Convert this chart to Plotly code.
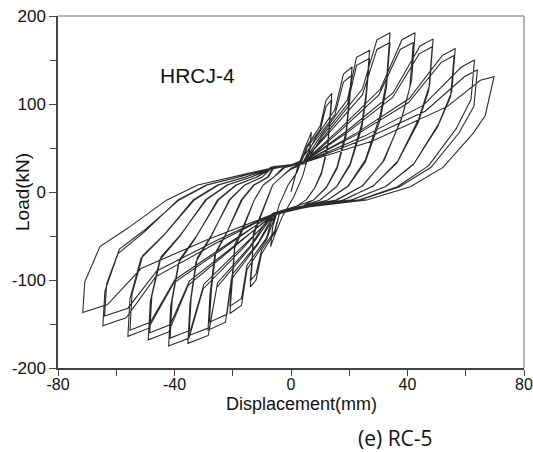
import plotly.graph_objects as go

# ---- data: hysteresis cycles (displacement mm, load kN), vertices ----
c01_disp = [0, 2, 5, 7, 6.3, 4, 1, -3, -5.5, -7, -6.3, -4, -1, 2]
c01_load = [0, 25, 52, 68, 45, 18, -5, -28, -48, -62, -40, -14, 8, 22]

c02_disp = [5.6, 10.1, 12, 14, 13.2, 12.6, 10.5, 8.1, 5.2, 1, -4, -5.6, -10.1, -12, -14, -13.3, -12.9, -10.9, -8.4, -6.3, -3, 0]
c02_load = [52.9, 75.6, 104, 112, 78.4, 53.8, 22.4, 4.5, -9, -18, -25, -46, -70, -100, -108, -80, -49.7, -32.4, -9, 8, 18, 26]

c03_disp = [3, 5.6, 10.1, 12, 14, 13.2, 12.6, 10.5, 8.1, 5.2, 1, -4, -5.6, -10.1, -12, -14, -13.3, -12.9, -10.9, -8.4, -6.3, -3, 0]
c03_load = [30, 50.9, 71.4, 97, 105, 73.5, 50.4, 21, 4.2, -9, -18, -25, -44, -65.8, -93, -101, -74.7, -46.5, -30.3, -9, 8, 18, 27]

c04_disp = [4, 8.4, 15.1, 18, 21, 19.8, 18.9, 15.8, 12.2, 7.8, 2, -5, -8.4, -15.1, -17, -21, -20.3, -19.3, -16.4, -12.6, -9.5, -5.9, -2]
c04_load = [33, 61.3, 93.6, 134, 142, 99.4, 68.2, 28.4, 5.7, -9, -16, -23, -54.4, -88, -129, -138, -102, -63.5, -41.4, -9, 8, 17, 28]

c05_disp = [3, 8.4, 15.1, 18, 21, 19.8, 18.9, 15.8, 12.2, 7.8, 3, -6, -8.4, -15.1, -17, -21, -20.3, -19.3, -16.4, -12.6, -9.5, -5.9, -3]
c05_load = [35, 58.8, 88.2, 125, 133, 93.1, 63.8, 26.6, 5.3, -9, -18, -25, -52.2, -83.2, -121, -130, -96.2, -59.8, -39, -9, 8, 17, 27]

c06_disp = [4, 10.8, 19.4, 22.5, 27, 25.8, 24.3, 20.3, 15.7, 10, 4, -5, -11.4, -20.5, -22.5, -28.5, -27.8, -26.2, -22.2, -17.1, -12.8, -8, -6]
c06_load = [33, 66.6, 105, 153, 161, 112.7, 77.3, 32.2, 6.4, -9, -16, -24, -59.7, -99.4, -148, -157, -116.2, -72.2, -47.1, -9, 8, 17, 29]

c07_disp = [5, 10.8, 19.4, 22.5, 27, 25.8, 24.3, 20.3, 15.7, 10, 3, -6, -11.2, -20.2, -22, -28, -27.3, -25.8, -21.8, -16.8, -12.6, -7.8, -6]
c07_load = [32, 64.1, 99.6, 144, 152, 106.4, 73, 30.4, 6.1, -9, -18, -26, -57.2, -94, -139, -148, -109.5, -68.1, -44.4, -9, 8, 17, 27]

c08_disp = [4, 13.6, 24.5, 29.5, 34, 32.8, 30.6, 25.5, 19.7, 12.6, 2, -6, -14.2, -25.5, -28.4, -35.4, -34.7, -32.6, -27.6, -21.2, -15.9, -9.9, -7]
c08_load = [33, 72.2, 117, 173, 181, 126.7, 86.9, 36.2, 7.2, -9, -19, -25, -63.9, -108.4, -163, -172, -127.3, -79.1, -51.6, -9, 8, 17, 26]

c09_disp = [4, 13.6, 24.5, 29.5, 34, 32.8, 30.6, 25.5, 19.7, 12.6, 3, -7, -14, -25.2, -28, -35, -34.3, -32.2, -27.3, -21, -15.8, -9.8, -7]
c09_load = [34, 69.1, 110.4, 162, 170, 119, 81.6, 34, 6.8, -9, -17, -26, -61.4, -103, -154, -163, -120.6, -75, -48.9, -9, 8, 17, 28]

c10_disp = [4, 17, 30.7, 38.1, 42.6, 41.4, 38.3, 32, 24.7, 15.8, 3, -6, -16.8, -30.2, -35, -42, -41.3, -38.6, -32.8, -25.2, -18.9, -11.8, -7]
c10_load = [33, 72.2, 117, 173, 181, 126.7, 86.9, 36.2, 7.2, -9, -18, -25, -64.8, -110.2, -166, -175, -129.5, -80.5, -52.5, -9, 8, 17, 27]

c11_disp = [4, 16.8, 30.2, 37.5, 42, 40.8, 37.8, 31.5, 24.4, 15.5, 4, -5, -16.6, -29.9, -34.5, -41.5, -40.8, -38.2, -32.4, -24.9, -18.7, -11.6, -6]
c11_load = [32, 69.1, 110.4, 162, 170, 119, 81.6, 34, 6.8, -9, -16, -24, -62.2, -104.8, -157, -166, -122.8, -76.4, -49.8, -9, 8, 17, 28]

c12_disp = [4, 19.5, 35.1, 44.3, 48.8, 47.6, 43.9, 36.6, 28.3, 18.1, 3, -6, -19.6, -35.3, -42, -49, -48.3, -45.1, -38.2, -29.4, -22, -13.7, -7]
c12_load = [33, 70.2, 112.8, 166, 174, 121.8, 83.5, 34.8, 7, -9, -18, -25, -62.8, -106, -159, -168, -124.3, -77.3, -50.4, -9, 8, 17, 27]

c13_disp = [4, 19.4, 34.9, 44, 48.5, 47.3, 43.7, 36.4, 28.1, 17.9, 3, -6, -19.4, -34.9, -41.5, -48.5, -47.8, -44.6, -37.8, -29.1, -21.8, -13.6, -7]
c13_load = [33, 67.7, 107.4, 157, 165, 115.5, 79.2, 33, 6.6, -9, -19, -26, -60.6, -101.2, -151, -160, -118.4, -73.6, -48, -9, 8, 17, 26]

c14_disp = [4, 22.6, 40.6, 51.9, 56.4, 55.2, 50.8, 42.3, 32.7, 20.9, 2, -6, -22.4, -40.3, -49, -56, -55.3, -51.5, -43.7, -33.6, -25.2, -15.7, -7]
c14_load = [33, 67.2, 106.2, 155, 163, 114.1, 78.2, 32.6, 6.5, -9, -17, -24, -61.7, -103.6, -155, -164, -121.4, -75.4, -49.2, -9, 8, 17, 27]

c15_disp = [4, 22.4, 40.3, 51.5, 56, 54.8, 50.4, 42, 32.5, 20.7, 3, -6, -22.1, -39.8, -48.3, -55.3, -54.6, -50.9, -43.1, -33.2, -24.9, -15.5, -7]
c15_load = [33, 64.9, 101.4, 147, 155, 108.5, 74.4, 31, 6.2, -9, -18, -25, -59.7, -99.4, -148, -157, -116.2, -72.2, -47.1, -9, 8, 17, 27]

c16_disp = [4, 25.2, 45.4, 58.5, 63, 61.8, 56.7, 47.3, 36.5, 23.3, 3, -6, -25.8, -46.5, -56.6, -64.6, -63.9, -59.4, -50.4, -38.8, -29.1, -18.1, -7]
c16_load = [33, 63.5, 98.4, 142, 150, 105, 72, 30, 6, -9, -18, -25, -58.3, -96.4, -143, -152, -112.5, -69.9, -45.6, -9, 8, 17, 27]

c17_disp = [4, 25.6, 46.1, 59.5, 64, 62.8, 57.6, 48, 37.1, 23.7, 3, -6, -25.6, -46.1, -56, -64, -63.3, -58.9, -49.9, -38.4, -28.8, -17.9, -7]
c17_load = [33, 60.4, 91.8, 131, 139, 97.3, 66.7, 27.8, 5.6, -9, -18, -25, -55.2, -89.8, -132, -141, -104.3, -64.9, -42.3, -9, 8, 17, 27]

c18_disp = [4, 28, 53.6, 65, 69.7, 66.7, 62.6, 52.2, 41, 26, 3, -6, -28.6, -51.5, -63, -71.5, -70.8, -65.6, -56, -42.6, -32, -20, -7, 4]
c18_load = [33, 58, 97, 127, 131, 87, 67, 28, 6, -9, -18, -25, -54, -87, -128, -137, -102, -62, -41, -9, 8, 17, 27, 33]

x_ticks = [-80, -40, 0, 40, 80]
y_ticks = [-200, -100, 0, 100, 200]
x_minor = [-60, -20, 20, 60]
y_minor = [-150, -50, 50, 150]

cycles = [
    (c01_disp, c01_load), (c02_disp, c02_load), (c03_disp, c03_load),
    (c04_disp, c04_load), (c05_disp, c05_load), (c06_disp, c06_load),
    (c07_disp, c07_load), (c08_disp, c08_load), (c09_disp, c09_load),
    (c10_disp, c10_load), (c11_disp, c11_load), (c12_disp, c12_load),
    (c13_disp, c13_load), (c14_disp, c14_load), (c15_disp, c15_load),
    (c16_disp, c16_load), (c17_disp, c17_load), (c18_disp, c18_load),
]

all_x, all_y = [], []
for d, l in cycles:
    all_x += d
    all_y += l

fig = go.Figure()
fig.add_trace(go.Scatter(
    x=all_x, y=all_y, mode="lines",
    line=dict(color="rgba(20,20,20,0.9)", width=1.1),
    showlegend=False, hoverinfo="skip",
))

FONT = "Liberation Sans, Arial, sans-serif"

fig.update_layout(
    width=533, height=452,
    margin=dict(l=58, r=9, t=16, b=84, autoexpand=False),
    paper_bgcolor="white", plot_bgcolor="white",
    showlegend=False,
    font=dict(family=FONT, color="#111111"),
    xaxis=dict(
        range=[-80, 80], tickmode="array", tickvals=x_ticks,
        ticktext=[str(v) for v in x_ticks],
        ticks="outside", ticklen=6, tickwidth=1.2, tickcolor="#444444",
        minor=dict(tickmode="array", tickvals=x_minor, ticks="outside",
                   ticklen=6, tickwidth=1.2, tickcolor="#444444"),
        showline=True, linecolor="#444444", linewidth=1.5,
        showgrid=False, zeroline=False, automargin=False,
        ticklabeloverflow="allow", ticklabelstandoff=-5,
        tickfont=dict(family=FONT, size=16, color="#111111"),
    ),
    yaxis=dict(
        range=[-200, 200], tickmode="array", tickvals=y_ticks,
        ticktext=[str(v) for v in y_ticks],
        ticks="outside", ticklen=7, tickwidth=1.2, tickcolor="#444444",
        minor=dict(tickmode="array", tickvals=y_minor, ticks="outside",
                   ticklen=6, tickwidth=1.2, tickcolor="#444444"),
        showline=True, linecolor="#444444", linewidth=1.5,
        showgrid=False, zeroline=False, automargin=False,
        ticklabeloverflow="allow",
        tickfont=dict(family=FONT, size=17, color="#111111"),
    ),
    shapes=[
        dict(type="line", xref="paper", yref="paper", x0=0, x1=1, y0=1, y1=1,
             line=dict(color="#9a9a9a", width=1.5)),
        dict(type="line", xref="paper", yref="paper", x0=1, x1=1, y0=0, y1=1,
             line=dict(color="#9a9a9a", width=1.5)),
    ],
    annotations=[
        dict(text="HRCJ-4", x=-32, y=132, xref="x", yref="y", showarrow=False,
             font=dict(family=FONT, size=21, color="#111111")),
        dict(text="Load(kN)", x=-0.0773, y=0.5, xref="paper", yref="paper",
             textangle=-90, showarrow=False, xanchor="center", yanchor="middle",
             font=dict(family=FONT, size=19, color="#111111")),
        dict(text="Displacement(mm)", x=0.5215, y=-0.102, xref="paper", yref="paper",
             showarrow=False, xanchor="center", yanchor="middle",
             font=dict(family=FONT, size=18, color="#111111")),
        dict(text="(e) RC-5", x=0.725, y=-0.198, xref="paper", yref="paper",
             showarrow=False, xanchor="center", yanchor="middle",
             font=dict(family="Open Sans, Carlito, sans-serif", size=21, color="#111111")),
    ],
)

fig.write_html("out.html")
